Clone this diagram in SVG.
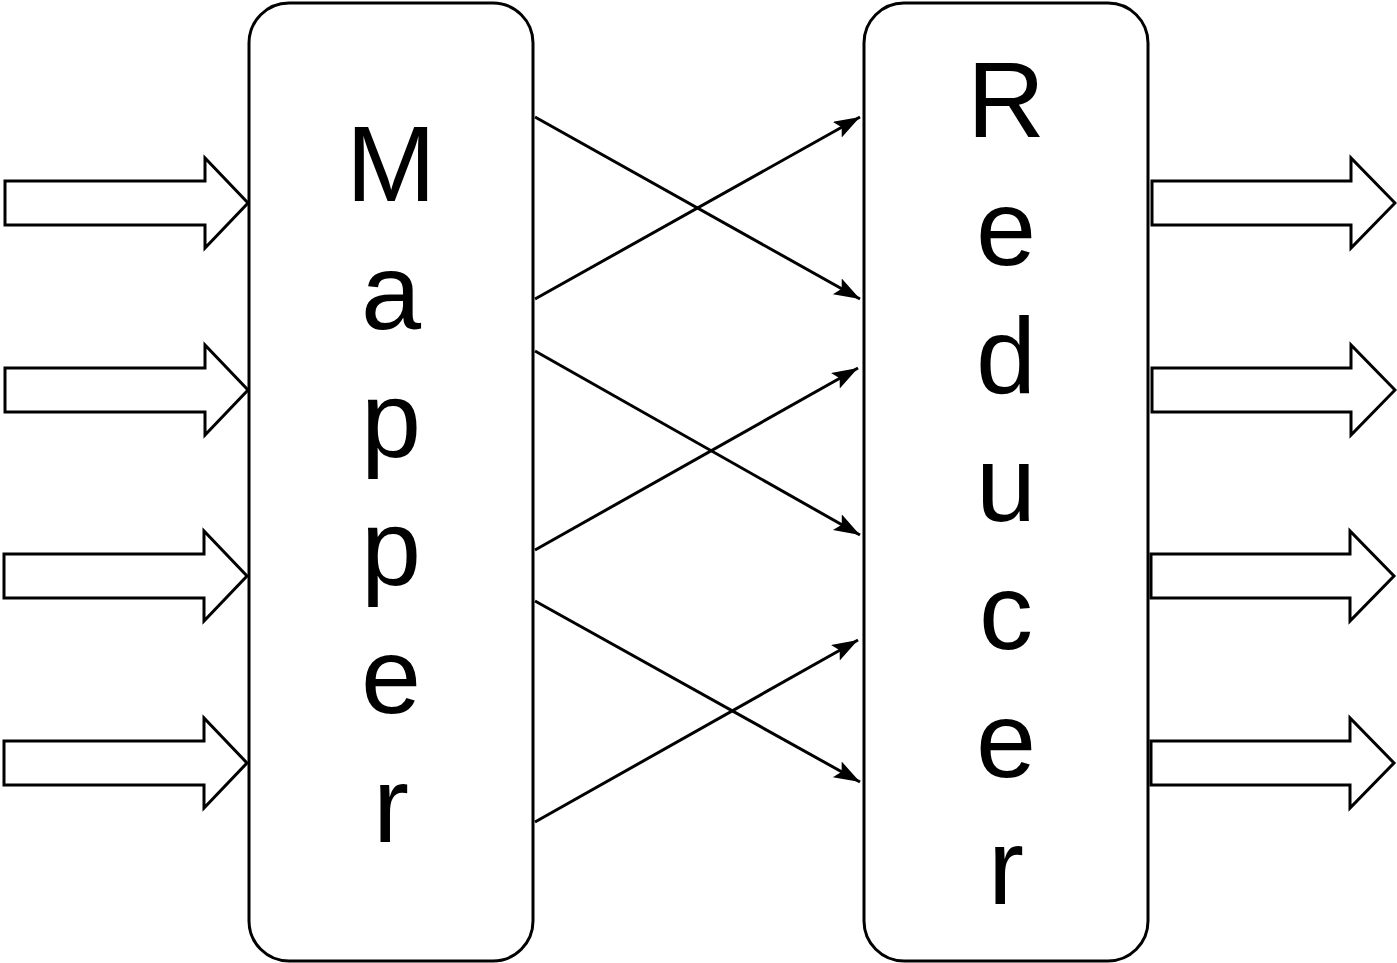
<svg xmlns="http://www.w3.org/2000/svg" width="1397" height="963" viewBox="0 0 1397 963">
  <style>
    .box { fill: #ffffff; stroke: #000000; stroke-width: 3; }
    .block { fill: #ffffff; stroke: #000000; stroke-width: 3; stroke-linejoin: miter; }
    .link { fill: none; stroke: #000000; stroke-width: 3; marker-end: url(#head); }
    .label { font-family: "Liberation Sans", Arial, sans-serif; font-size: 108px; fill: #000000; text-anchor: middle; }
  </style>
  <defs>
    <marker id="head" markerUnits="userSpaceOnUse" markerWidth="28" markerHeight="20" refX="26" refY="9" orient="auto">
      <path d="M0,0 L26,9 L0,18 L5,9 Z" fill="#000000"/>
    </marker>
  </defs>
  <rect width="1397" height="963" fill="#ffffff"/>

  <!-- input block arrows -->
  <g id="inputs">
    <polygon class="block" points="5,181 205,181 205,158 248,203 205,248 205,225 5,225"/>
    <polygon class="block" points="5,368 205,368 205,345 248,390 205,435 205,412 5,412"/>
    <polygon class="block" points="4,554 204,554 204,531 247,576 204,621 204,598 4,598"/>
    <polygon class="block" points="4,741 204,741 204,718 247,763 204,808 204,785 4,785"/>
  </g>

  <!-- mapper node -->
  <g id="mapper">
    <rect class="box" x="249" y="3" width="284" height="958" rx="40" ry="40"/>
    <text class="label" x="391" y="201">M</text>
    <text class="label" x="391" y="329">a</text>
    <text class="label" x="391" y="457">p</text>
    <text class="label" x="391" y="585">p</text>
    <text class="label" x="391" y="713">e</text>
    <text class="label" x="391" y="842">r</text>
  </g>

  <!-- reducer node -->
  <g id="reducer">
    <rect class="box" x="864" y="3" width="284" height="958" rx="40" ry="40"/>
    <text class="label" x="1006" y="137">R</text>
    <text class="label" x="1006" y="265">e</text>
    <text class="label" x="1006" y="393">d</text>
    <text class="label" x="1006" y="521">u</text>
    <text class="label" x="1006" y="649">c</text>
    <text class="label" x="1006" y="777">e</text>
    <text class="label" x="1006" y="904">r</text>
  </g>

  <!-- shuffle connectors -->
  <g id="connectors">
    <line class="link" x1="535" y1="117" x2="860" y2="299"/>
    <line class="link" x1="535" y1="299" x2="860" y2="117"/>
    <line class="link" x1="535" y1="351" x2="860" y2="535"/>
    <line class="link" x1="535" y1="550" x2="858" y2="368"/>
    <line class="link" x1="535" y1="601" x2="860" y2="782"/>
    <line class="link" x1="535" y1="822" x2="858" y2="640"/>
  </g>

  <!-- output block arrows -->
  <g id="outputs">
    <polygon class="block" points="1152,181 1351,181 1351,158 1395,203 1351,248 1351,225 1152,225"/>
    <polygon class="block" points="1152,368 1351,368 1351,345 1395,390 1351,435 1351,412 1152,412"/>
    <polygon class="block" points="1151,554 1350,554 1350,531 1394,576 1350,621 1350,598 1151,598"/>
    <polygon class="block" points="1151,741 1350,741 1350,718 1394,763 1350,808 1350,785 1151,785"/>
  </g>
</svg>
